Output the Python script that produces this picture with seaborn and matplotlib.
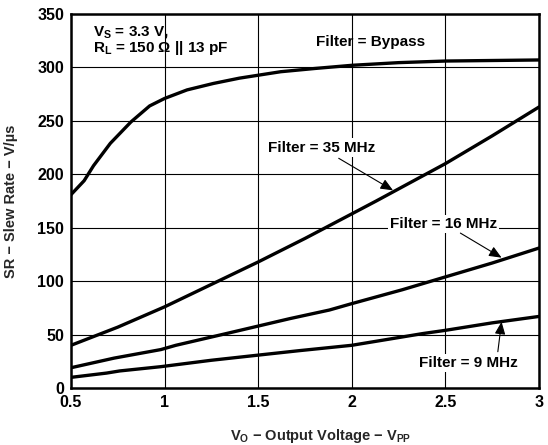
import numpy as np
import pandas as pd
import seaborn as sns
import matplotlib.pyplot as plt

# values
bypass_x = [0.5, 0.57, 0.62, 0.71, 0.82, 0.92, 1.0, 1.12, 1.26, 1.4, 1.62, 1.8, 2.0, 2.25, 2.5, 2.75, 3.0]
bypass_y = [181, 194, 208, 229, 249, 264, 271, 279, 285, 290, 296, 299, 302, 304.5, 306, 306.5, 307]

mhz35_x = [0.5, 0.75, 1.0, 1.25, 1.5, 1.75, 2.0, 2.13, 2.5, 2.75, 3.0]
mhz35_y = [40, 57, 76, 97, 118, 140, 163, 175, 210, 236, 263]

mhz16_x = [0.5, 0.73, 0.98, 1.06, 1.33, 1.67, 1.88, 2.0, 2.27, 2.5, 2.75, 3.0]
mhz16_y = [19, 28, 36, 40, 51, 65, 73, 79, 92, 104, 117, 131]

mhz9_x = [0.5, 0.69, 0.76, 0.98, 1.25, 1.51, 1.72, 2.0, 2.38, 2.5, 2.75, 3.0]
mhz9_y = [10, 14, 16, 20, 26, 31, 35, 40, 51, 54, 61, 67]

series = {
    'Bypass': (bypass_x, bypass_y),
    '35 MHz': (mhz35_x, mhz35_y),
    '16 MHz': (mhz16_x, mhz16_y),
    '9 MHz': (mhz9_x, mhz9_y),
}
df = pd.concat([pd.DataFrame({'Vo': x, 'SR': y, 'Filter': name})
                for name, (x, y) in series.items()], ignore_index=True)

sns.set_theme(style='white')
plt.rcParams['font.family'] = ['Liberation Sans', 'DejaVu Sans']
plt.rcParams['font.weight'] = 'bold'
plt.rcParams['mathtext.fontset'] = 'custom'
plt.rcParams['mathtext.rm'] = 'Liberation Sans:bold'
plt.rcParams['mathtext.it'] = 'Liberation Sans:bold'
plt.rcParams['mathtext.bf'] = 'Liberation Sans:bold'

fig = plt.figure(figsize=(5.48, 4.45), dpi=100)
ax = fig.add_axes([0.1296, 0.128, 0.8540, 0.8405])

sns.lineplot(data=df, x='Vo', y='SR', units='Filter', estimator=None,
             color='black', linewidth=2.4, ax=ax, sort=False)

ax.set_xlim(0.5, 3)
ax.set_ylim(0, 350)
ax.set_xticks([0.5, 1, 1.5, 2, 2.5, 3])
ax.set_xticklabels(['0.5', '1', '1.5', '2', '2.5', '3'])
ax.set_yticks(range(0, 351, 50))
ax.grid(True, color='black', linewidth=0.8)
ax.set_axisbelow(True)
for s in ax.spines.values():
    s.set_color('black')
    s.set_linewidth(1.8)
ax.tick_params(length=0, labelsize=11.5, pad=5, colors='black')
for lbl in ax.get_xticklabels() + ax.get_yticklabels():
    lbl.set_fontweight('bold')

ax.set_xlabel('$V_O$ − Output Voltage − $V_{PP}$', fontsize=10.5, fontweight='bold')
ax.set_ylabel('SR − Slew Rate − V/µs', fontsize=10.5, fontweight='bold')
ax.xaxis.set_label_coords(0.534, -0.105)
ax.yaxis.set_label_coords(-0.113, 0.5)

txt = dict(fontsize=11, fontweight='bold', color='black')
box = dict(facecolor='white', edgecolor='none', pad=1.5)
ax.text(0.615, 333, '$V_S$ = 3.3 V,', ha='left', va='center', **txt)
ax.text(0.615, 318, '$R_L$ = 150 Ω || 13 pF', ha='left', va='center', **txt)
ax.text(2.1, 324, 'Filter = Bypass', ha='center', va='center', **txt)
ax.text(1.84, 225, 'Filter = 35 MHz', ha='center', va='center', bbox=box, **txt)
ax.text(2.49, 153.5, 'Filter = 16 MHz', ha='center', va='center', bbox=box, **txt)
ax.text(2.62, 23.5, 'Filter = 9 MHz', ha='center', va='center', bbox=box, **txt)

arrow = dict(arrowstyle='-|>,head_length=0.75,head_width=0.32', color='black',
             lw=0.8, mutation_scale=10, shrinkA=0, shrinkB=0)
ax.annotate('', xy=(2.22, 185), xytext=(1.93, 215), arrowprops=arrow)
ax.annotate('', xy=(2.80, 122), xytext=(2.58, 145), arrowprops=arrow)
ax.annotate('', xy=(2.80, 62), xytext=(2.78, 34), arrowprops=arrow)

plt.savefig('out.png', dpi=100)
